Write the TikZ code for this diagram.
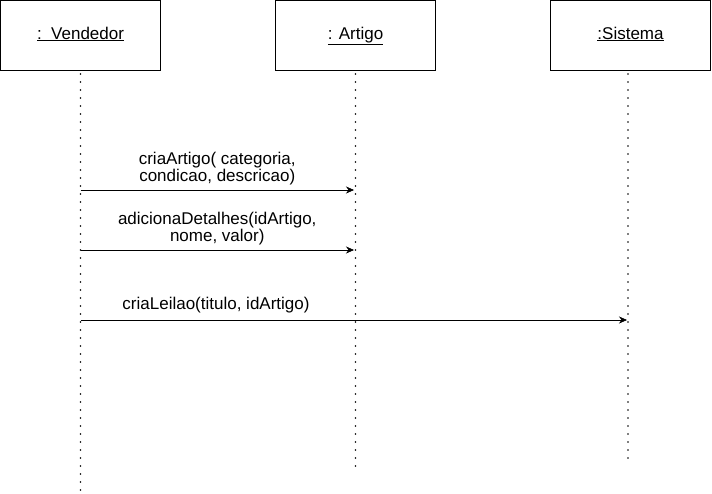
\documentclass[tikz,border=0pt]{standalone}
\usepackage{fontspec}
\setmainfont{Liberation Sans}
\usetikzlibrary{arrows.meta,positioning}

\begin{document}
\begin{tikzpicture}[x=1pt,y=-1pt,inner sep=1mm,
  font=\fontsize{17}{17.5}\selectfont,
  obj/.style={draw,thick,minimum width=160pt,minimum height=70pt,
    text height=12pt,text depth=5pt},
  life/.style={line width=1.8pt,dash pattern=on 0pt off 8pt,line cap=round},
  msg/.style={-{Stealth[length=8pt,width=7pt]},semithick},
  lbl/.style={align=center,above,inner sep=4.5pt}]
  \useasboundingbox (0,0) rectangle (712,493);
  % objetos
  \node[obj] (vend) at (80.5,35.5) {\underline{:\ \ Vendedor}};
  \node[obj] (art) at (355.5,35.5) {\underline{: Artigo}};
  \node[obj] (sis) at (630.5,35.5) {\underline{:Sistema}};
  % linhas de vida
  \coordinate (vendEnd) at (80.5,490);
  \coordinate (artEnd) at (355.5,470);
  \coordinate (sisEnd) at (628,460);
  \draw[life] (80.5,74) -- (vendEnd);
  \draw[life] (355.5,74) -- (artEnd);
  \draw[life] (628,74) -- (sisEnd);
  % mensagens
  \coordinate (m1a) at (80.5,190);
  \coordinate (m1b) at (354,190);
  \coordinate (m2a) at (80.5,250);
  \coordinate (m2b) at (354,250);
  \coordinate (m3a) at (80.5,320);
  \coordinate (m3b) at (627,320);
  \draw[msg] (m1a) -- node[lbl] (l1) {criaArtigo( categoria,\\condicao, descricao)} (m1b);
  \draw[msg] (m2a) -- node[lbl] (l2) {adicionaDetalhes(idArtigo,\\nome, valor)} (m2b);
  \draw[msg] (m3a) -- node[lbl,pos=0.248,inner sep=6.5pt] (l3) {criaLeilao(titulo, idArtigo)} (m3b);
\end{tikzpicture}
\end{document}
